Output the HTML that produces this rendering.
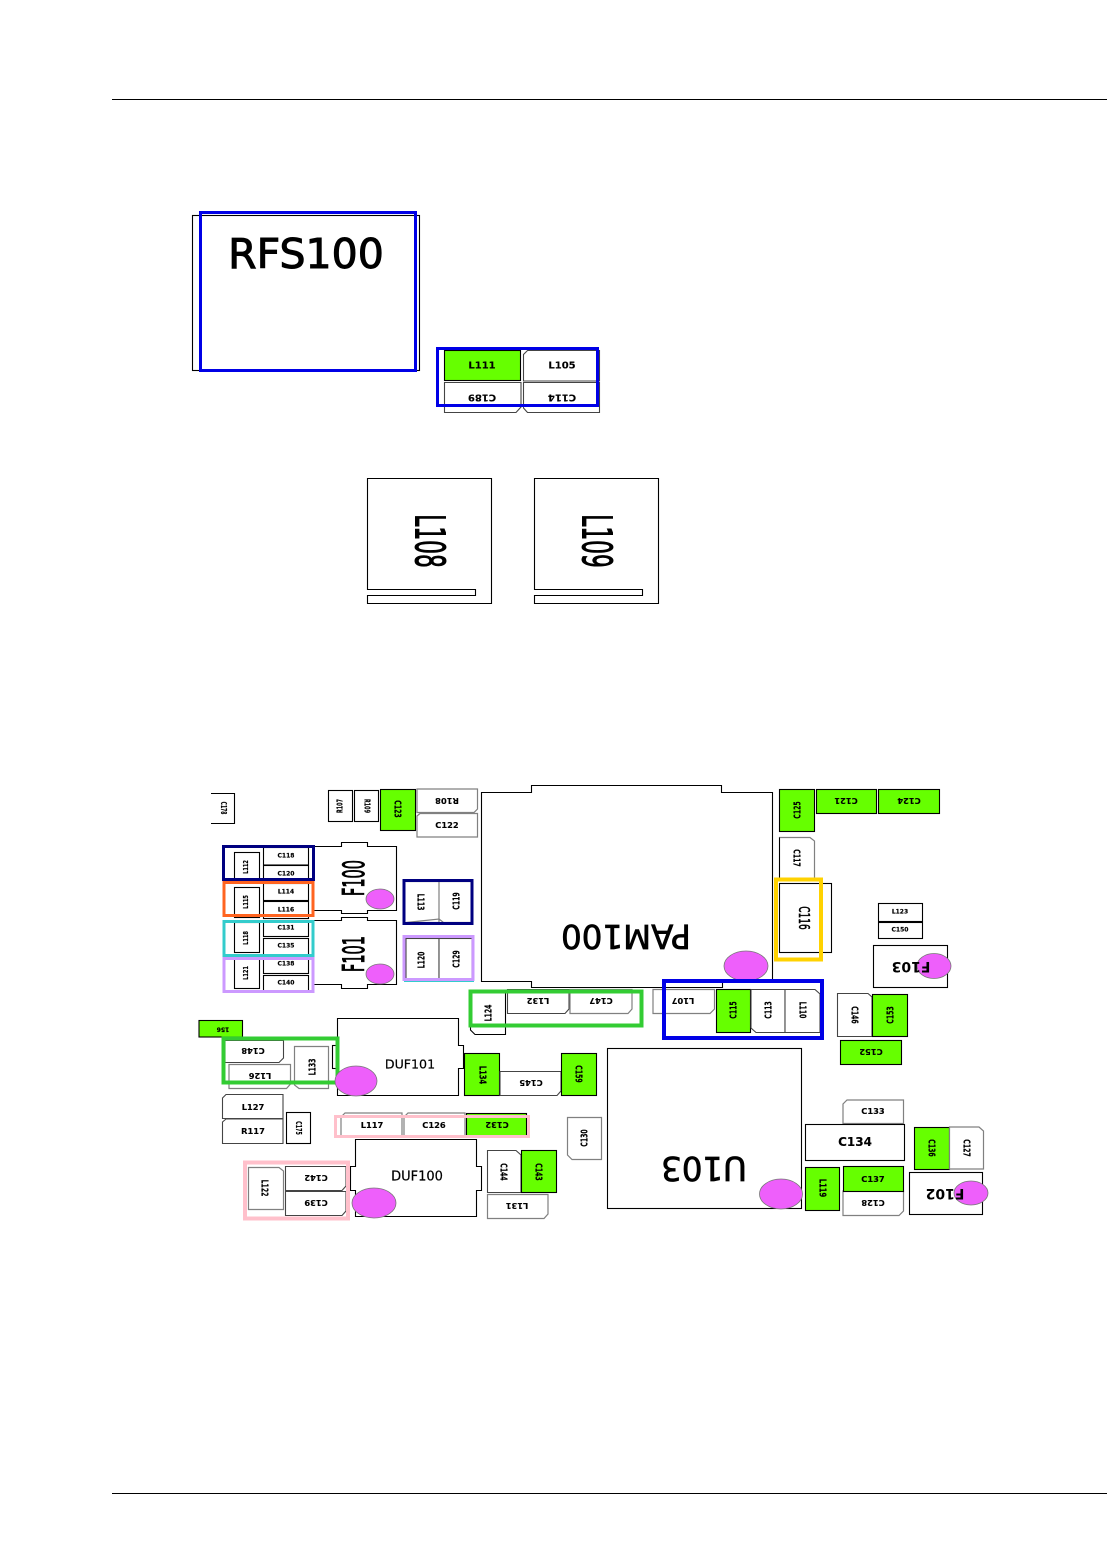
<!DOCTYPE html>
<html><head><meta charset="utf-8"><style>
html,body{margin:0;padding:0;background:#fff}
svg{display:block}
.k{fill:#fff;stroke:#000;stroke-width:1.1}
.g{fill:#fff;stroke:#808080;stroke-width:1.2}
.d{fill:#fff;stroke:#444;stroke-width:1.1}
.l{fill:#66ff00;stroke:#000;stroke-width:1.1}
.e{fill:#ee5ffb;stroke:#777;stroke-width:.8}
.r{fill:none;stroke-width:3}
text{font-family:"DejaVu Sans","Liberation Sans",sans-serif;text-anchor:middle;dominant-baseline:central;fill:#000}
.big{stroke:#000;stroke-width:.7}
.b8{font-size:8.300px;font-weight:bold;stroke:#000;stroke-width:.12}
.b5{font-size:6px;font-weight:bold;stroke:#000;stroke-width:.15}
.v{font-size:10px;font-weight:bold;stroke:#000;stroke-width:.15}
</style></head><body>
<svg width="1107" height="1554" viewBox="0 0 1107 1554" xmlns="http://www.w3.org/2000/svg">
<rect x="112" y="99" width="995" height="1" fill="#000"/>
<rect x="112" y="1493" width="995" height="1" fill="#000"/>

<!-- RFS100 -->
<rect class="k" x="192.500" y="215.500" width="227" height="155"/>
<rect class="r" x="200.500" y="212.500" width="215" height="158" stroke="#0000e6"/>
<text class="big" x="306" y="254" style="font-size:41px;stroke-width:1">RFS100</text>

<!-- L111 group -->
<rect class="l" x="444.500" y="350.500" width="76" height="30"/>
<path class="d" d="M527.500 350.500H599.500V381H523.500V354.500Z"/>
<path class="d" d="M444.500 382.500H521V407L516 412.500H444.500Z"/>
<path class="d" d="M523.500 382.500H599.500V412.500H527.500L523.500 408Z"/>
<rect class="r" x="437.500" y="348.500" width="160" height="57" stroke="#0000e6"/>
<text class="b8" x="482" y="366" style="font-size:10px">L111</text>
<text class="b8" x="562" y="366" style="font-size:10px">L105</text>
<text class="b8" transform="translate(482 397) rotate(180)" style="font-size:10px">C189</text>
<text class="b8" transform="translate(562 397) rotate(180)" style="font-size:10px">C114</text>

<!-- L108 L109 -->
<path class="k" d="M367.500 478.500H491.500V603.500H367.500V595.500H475.500V589.500H367.500Z"/>
<path class="k" d="M534.500 478.500H658.500V603.500H534.500V595.500H642.500V589.500H534.500Z"/>
<text class="big" transform="translate(429 541) rotate(90) scale(.53,1)" style="font-size:41px;stroke-width:1">L108</text>
<text class="big" transform="translate(596 541) rotate(90) scale(.53,1)" style="font-size:41px;stroke-width:1">L109</text>

<!-- PAM100 -->
<path class="k" d="M481.500 792.500H531.500V785.500H721.500V792.500H772.500V981.500H722.500V987.500H531.500V981.500H481.500Z"/>
<text class="big" transform="translate(626 936) rotate(180)" style="font-size:32.500px">PAM100</text>
<ellipse class="e" cx="746" cy="966" rx="22" ry="15"/>

<!-- top-left small parts -->
<path class="k" d="M211 793.500H234.500V823.500H211" />
<text class="v" transform="translate(223 808) rotate(90) scale(.6,1)" style="font-size:7.500px">C178</text>
<rect class="k" x="328.500" y="790.500" width="24" height="31"/>
<rect class="k" x="354.500" y="790.500" width="24" height="31"/>
<text class="v" transform="translate(340.500 806) rotate(-90) scale(.65,1)" style="font-size:7.500px">R107</text>
<text class="v" transform="translate(366.500 806) rotate(90) scale(.65,1)" style="font-size:7.500px">R109</text>
<rect class="l" x="380.500" y="789.500" width="35" height="41"/>
<text class="v" transform="translate(398 809) rotate(90) scale(.62,1)">C123</text>
<path class="g" d="M417 789H477.500V809L474 812.500H417Z"/>
<path class="g" d="M417 816L420 813.500H477.500V837H417Z"/>
<text class="b8" transform="translate(447 801) rotate(180)">R108</text>
<text class="b8" x="447" y="825">C122</text>

<!-- F100 / F101 -->
<path class="k" d="M313 846.500H341.500V842.500H367.500V846.500H396.500V910.500H367.500V913.500H341.500V910.500H313"/>
<path class="k" d="M313 920.500H341.500V917.500H367.500V920.500H396.500V984.500H367.500V988.500H341.500V984.500H313"/>
<text class="big" transform="translate(355 878) rotate(-90) scale(.5,1)" style="font-size:29px;stroke-width:1">F100</text>
<text class="big" transform="translate(355 954) rotate(-90) scale(.5,1)" style="font-size:29px;stroke-width:1">F101</text>
<ellipse class="e" cx="380" cy="899" rx="14" ry="10"/>
<ellipse class="e" cx="380" cy="974" rx="14" ry="10"/>

<!-- left column -->
<rect class="k" x="234.500" y="852.500" width="25" height="30"/>
<rect class="k" x="234.500" y="887.500" width="25" height="30"/>
<rect class="k" x="234.500" y="922.500" width="25" height="30"/>
<rect class="k" x="234.500" y="958.500" width="25" height="30"/>
<rect class="k" x="263.500" y="847.500" width="45" height="17.500"/>
<rect class="k" x="263.500" y="865.500" width="45" height="15"/>
<rect class="k" x="263.500" y="883.500" width="45" height="17"/>
<rect class="k" x="263.500" y="901.500" width="45" height="17"/>
<rect class="k" x="263.500" y="920.500" width="45" height="16"/>
<rect class="k" x="263.500" y="938.500" width="45" height="18"/>
<rect class="k" x="263.500" y="957.500" width="45" height="16"/>
<rect class="k" x="263.500" y="975.500" width="45" height="16"/>
<text class="b5" transform="translate(247 867) rotate(-90) scale(.85,1.1)">L112</text>
<text class="b5" transform="translate(247 902) rotate(-90) scale(.85,1.1)">L115</text>
<text class="b5" transform="translate(247 938) rotate(-90) scale(.85,1.1)">L118</text>
<text class="b5" transform="translate(247 973) rotate(-90) scale(.85,1.1)">L121</text>
<text class="b5" x="286" y="856">C118</text>
<text class="b5" x="286" y="874">C120</text>
<text class="b5" x="286" y="892">L114</text>
<text class="b5" x="286" y="910">L116</text>
<text class="b5" x="286" y="928">C131</text>
<text class="b5" x="286" y="946">C135</text>
<text class="b5" x="286" y="964">C138</text>
<text class="b5" x="286" y="983">C140</text>
<rect class="r" x="223.500" y="846.500" width="90" height="33" stroke="#000080"/>
<rect class="r" x="224" y="882.500" width="89" height="33" stroke="#ff6420"/>
<rect class="r" x="224" y="921.500" width="89" height="34" stroke="#33cccc"/>
<rect class="r" x="224" y="958.500" width="89" height="33" stroke="#cc99ff"/>

<!-- L113 C119 L120 C129 -->
<path class="g" d="M406 881.500H471.500V922.500H443.500L439 919V881.500M439 919V922.500H406Z"/>
<rect x="404" y="980" width="70" height="2" fill="#33cccc"/>
<rect class="d" x="406" y="938.500" width="33" height="41"/>
<rect class="d" x="439" y="938.500" width="33" height="41"/>
<text class="v" transform="translate(421 902) rotate(90) scale(.62,1)">L113</text>
<text class="v" transform="translate(456 901) rotate(-90) scale(.62,1)">C119</text>
<text class="v" transform="translate(421 960) rotate(-90) scale(.62,1)">L120</text>
<text class="v" transform="translate(456 959) rotate(-90) scale(.62,1)">C129</text>
<rect class="r" x="404" y="880.500" width="68" height="43" stroke="#000080"/>
<rect class="r" x="404" y="936.500" width="69" height="43" stroke="#cc99ff"/>

<!-- DUF101 area -->
<rect class="l" x="199" y="1020.500" width="43.500" height="16.500"/>
<text class="b5" transform="translate(223 1029) rotate(180)">156</text>
<path class="d" d="M225 1040.500H283.500V1058L279 1062.500H225Z"/>
<path class="g" d="M229 1064.500H290.500V1084L286.500 1088.500H229Z"/>
<path class="g" d="M294.500 1046.500H328.500V1088.500H299L294.500 1085Z"/>
<rect class="k" x="332.500" y="1045.500" width="6" height="23"/>
<path class="k" d="M337.500 1018.500H458.500V1045.500H463.500V1068.500H458.500V1095.500H337.500Z"/>
<text x="410" y="1064" style="font-size:12.600px;stroke:#000;stroke-width:.2">DUF101</text>
<text class="b8" transform="translate(253 1051) rotate(180)">C148</text>
<text class="b8" transform="translate(260 1076) rotate(180)">L126</text>
<text class="v" transform="translate(312 1067) rotate(-90) scale(.62,1)">L133</text>
<rect class="r" x="223.500" y="1038.500" width="114" height="44" stroke="#33cc33" style="stroke-width:4"/>
<ellipse class="e" cx="356" cy="1081" rx="21" ry="15"/>

<path class="d" d="M222.500 1098L226 1094.500H283V1118.500H222.500Z"/>
<path class="d" d="M222.500 1122L226 1119H283V1143.500H222.500Z"/>
<text class="b8" x="253" y="1107">L127</text>
<text class="b8" x="253" y="1131">R117</text>
<rect class="k" x="286.500" y="1112.500" width="24" height="31"/>
<text class="v" transform="translate(298 1128) rotate(90) scale(.65,1)" style="font-size:7.500px">C175</text>

<path class="g" d="M345 1113H402V1136H341V1117Z"/>
<path class="g" d="M408 1113H465V1136H404V1117Z"/>
<rect class="l" x="466.500" y="1113.500" width="60" height="23"/>
<rect class="r" x="335.500" y="1116.500" width="193" height="20" stroke="#ffc0cb"/>
<text class="b8" x="372" y="1125">L117</text>
<text class="b8" x="434" y="1125">C126</text>
<text class="b8" transform="translate(497 1125) rotate(180)">C132</text>

<!-- DUF100 -->
<path class="k" d="M355.500 1139.500H476.500V1166.500H481.500V1190.500H476.500V1216.500H355.500V1190.500H350.500V1166.500H355.500Z"/>
<text x="417" y="1177" style="font-size:13px;stroke:#000;stroke-width:.2">DUF100</text>
<path class="g" d="M248.500 1167.500H279L283.500 1171V1209.500H248.500Z"/>
<path class="d" d="M285.500 1166.500H346V1186L342 1190.500H285.500Z"/>
<path class="d" d="M285.500 1191.500H346V1211L342 1215.500H285.500Z"/>
<text class="v" transform="translate(265 1188) rotate(90) scale(.62,1)">L122</text>
<text class="b8" transform="translate(316 1178) rotate(180)">C142</text>
<text class="b8" transform="translate(316 1203) rotate(180)">C139</text>
<rect class="r" x="245" y="1162.500" width="103" height="56" stroke="#ffc0cb" style="stroke-width:4"/>
<ellipse class="e" cx="374" cy="1203" rx="22" ry="15"/>

<!-- row under PAM -->
<path class="k" d="M470.500 992.500H505.500V1034.500H475L470.500 1030Z"/>
<text class="v" transform="translate(488 1013) rotate(-90) scale(.62,1)">L124</text>
<path class="d" d="M507.500 989.500H569V1009L565 1013.500H507.500Z"/>
<path class="g" d="M570 989.500H632V1009L628 1013.500H570Z"/>
<text class="b8" transform="translate(538 1001) rotate(180)">L132</text>
<text class="b8" transform="translate(601 1001) rotate(180)">C147</text>
<rect class="r" x="470.500" y="991.500" width="171" height="34" stroke="#33cc33" style="stroke-width:4"/>

<path class="g" d="M653 989.500H714.500V1009L710 1013.500H653Z"/>
<text class="b8" transform="translate(683 1001) rotate(180)">L107</text>
<rect class="l" x="716.500" y="989.500" width="34" height="43"/>
<path class="d" d="M751 989.500H785V1032.500H756L751 1028Z"/>
<path class="d" d="M785 989.500H815L820 994V1032.500H785Z"/>
<text class="v" transform="translate(733 1010) rotate(-90) scale(.62,1)">C115</text>
<text class="v" transform="translate(768 1010) rotate(-90) scale(.62,1)">C113</text>
<text class="v" transform="translate(803 1010) rotate(90) scale(.62,1)">L110</text>
<rect class="r" x="664" y="981" width="158" height="57" stroke="#0000e6" style="stroke-width:4"/>

<rect class="l" x="464.500" y="1053.500" width="35" height="42"/>
<path class="d" d="M500 1071.500H561V1091L557 1095.500H500Z"/>
<rect class="l" x="561.500" y="1053.500" width="35" height="42"/>
<text class="v" transform="translate(482 1075) rotate(90) scale(.68,1)">L134</text>
<text class="b8" transform="translate(531 1083) rotate(180)">C145</text>
<text class="v" transform="translate(579 1074) rotate(90) scale(.62,1)">C159</text>

<path class="g" d="M567.500 1117.500H601.500V1159.500H572L567.500 1155Z"/>
<text class="v" transform="translate(584 1138) rotate(-90) scale(.62,1)">C130</text>
<path class="d" d="M487.500 1150.500H516L521 1155V1192.500H487.500Z"/>
<rect class="l" x="521.500" y="1150.500" width="35" height="42"/>
<path class="g" d="M487.500 1194.500H548V1214L544 1218.500H487.500Z"/>
<text class="v" transform="translate(504 1172) rotate(90) scale(.62,1)">C144</text>
<text class="v" transform="translate(539 1172) rotate(90) scale(.62,1)">C143</text>
<text class="b8" transform="translate(517 1206) rotate(180)">L131</text>

<!-- U103 -->
<rect class="k" x="607.500" y="1048.500" width="194" height="160"/>
<text class="big" transform="translate(704 1168) rotate(180)" style="font-size:32.500px">U103</text>
<ellipse class="e" cx="781" cy="1194" rx="21.500" ry="15"/>

<!-- right column top -->
<rect class="l" x="779.500" y="789.500" width="35" height="42"/>
<rect class="l" x="816.500" y="789.500" width="60" height="24"/>
<rect class="l" x="878.500" y="789.500" width="61" height="24"/>
<text class="v" transform="translate(797 810) rotate(-90) scale(.62,1)">C125</text>
<text class="b8" transform="translate(846 801) rotate(180)">C121</text>
<text class="b8" transform="translate(909 801) rotate(180)">C124</text>
<path class="g" d="M779.500 837.500H810L814.500 841V880H779.500Z"/>
<path d="M779.500 837.500V880" stroke="#000" fill="none"/>
<text class="v" transform="translate(797 858) rotate(90) scale(.62,1)">C117</text>
<rect class="k" x="779.500" y="883.500" width="52" height="69"/>
<text class="big" transform="translate(804 918) rotate(90) scale(.6,1)" style="font-size:15px;stroke-width:.5">C116</text>
<rect class="r" x="776" y="879.500" width="45" height="80" stroke="#ffd200" style="stroke-width:4"/>

<rect class="k" x="878.500" y="903.500" width="44" height="18"/>
<rect class="k" x="878.500" y="922.500" width="44" height="16"/>
<text class="b5" x="900" y="912">L123</text>
<text class="b5" x="900" y="930">C150</text>
<rect class="k" x="873.500" y="945.500" width="74" height="42"/>
<ellipse class="e" cx="934" cy="966" rx="17" ry="12.500"/>
<text transform="translate(911 966) rotate(180)" style="font-size:14px;font-weight:bold">F103</text>

<path class="d" d="M837.500 993.500H868L872 997V1036.500H837.500Z"/>
<rect class="l" x="872.500" y="994.500" width="35" height="42"/>
<rect class="l" x="840.500" y="1040.500" width="61" height="24"/>
<text class="v" transform="translate(855 1015) rotate(90) scale(.62,1)">C146</text>
<text class="v" transform="translate(890 1015) rotate(-90) scale(.62,1)">C153</text>
<text class="b8" transform="translate(871 1052) rotate(180)">C152</text>

<!-- bottom right -->
<path class="g" d="M847 1100H903.500V1123.500H843V1104Z"/>
<rect class="k" x="805.500" y="1124.500" width="99" height="36"/>
<text class="b8" x="855" y="1142" style="font-size:12px">C134</text>
<text class="b8" x="873" y="1111">C133</text>
<rect class="l" x="914.500" y="1127.500" width="35" height="42"/>
<path class="g" d="M949.500 1127H979L983.500 1131V1169H949.500Z"/>
<text class="v" transform="translate(932 1148) rotate(90) scale(.62,1)">C136</text>
<text class="v" transform="translate(967 1148) rotate(90) scale(.62,1)">C127</text>
<rect class="l" x="805.500" y="1167.500" width="34" height="43"/>
<text class="v" transform="translate(822 1188) rotate(90) scale(.68,1)">L119</text>
<path class="g" d="M843 1191H903.500V1211L899 1215.500H843Z"/>
<rect class="l" x="843.500" y="1166.500" width="60" height="25"/>
<text class="b8" x="873" y="1179">C137</text>
<text class="b8" transform="translate(873 1203) rotate(180)">C128</text>
<rect class="k" x="909.500" y="1172.500" width="73" height="42"/>
<ellipse class="e" cx="971" cy="1193" rx="17" ry="12"/>
<text transform="translate(945 1193) rotate(180)" style="font-size:14px;font-weight:bold">F102</text>
</svg>
</body></html>
